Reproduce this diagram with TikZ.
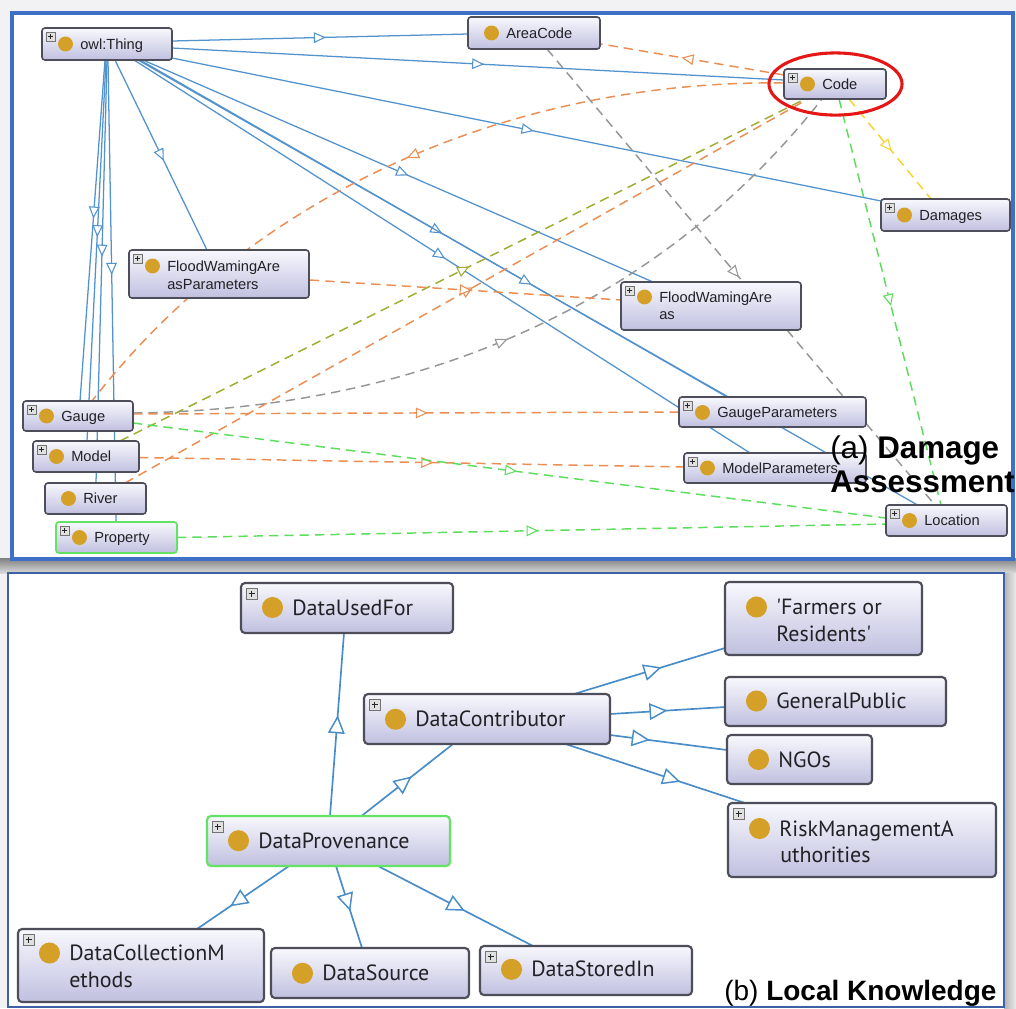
\documentclass[tikz,border=0pt]{standalone}
\usepackage{fontspec}
\newfontfamily\tf{Liberation Sans}
\newfontfamily\pts[Ligatures=TeXOff]{PT Sans}
\usetikzlibrary{arrows.meta,decorations.markings,fit,calc,backgrounds}

\definecolor{pagebg}{RGB}{242,242,244}
\definecolor{panelblue}{RGB}{62,112,200}
\definecolor{panelblueb}{RGB}{60,98,165}
\definecolor{isablue}{RGB}{82,146,205}
\definecolor{bisablue}{RGB}{72,140,200}
\definecolor{porange}{RGB}{234,142,84}
\definecolor{pgray}{RGB}{150,150,150}
\definecolor{polive}{RGB}{160,172,52}
\definecolor{pgreen}{RGB}{92,222,92}
\definecolor{pyellow}{RGB}{246,212,40}
\definecolor{dotc}{RGB}{212,160,40}
\definecolor{boxtop}{RGB}{248,248,253}
\definecolor{boxbot}{RGB}{192,192,224}
\definecolor{boxline}{RGB}{78,78,90}
\definecolor{boxgreen}{RGB}{100,226,100}
\definecolor{txt}{RGB}{34,34,38}
\definecolor{ringred}{RGB}{228,22,22}

\pgfdeclarelayer{edges}
\pgfsetlayers{background,edges,main}

% class box of the upper ontology graph
\newcommand\tcls[8]{%
  \node[#1, fit={(#3,#4) (#5,#6)}] (#2) {};
  \fill[dotc] (#3+23.5,#7) circle (5.6pt);
  \node[ttxt] (#2-l) at (#3+38,#7+5) {#8};
}
% class box of the lower ontology graph
\newcommand\bcls[8]{%
  \node[#1, fit={(#3,#4) (#5,#6)}] (#2) {};
  \fill[dotc] (#3+31.5,#7) circle (7.9pt);
  \node[btxt] (#2-l) at (#3+51,#7+7.5) {#8};
}
% small expand icons
\newcommand\tplus[1]{%
  \draw[plusbox] ($(#1.north west)+(4,4)$) rectangle ($(#1.north west)+(13,13)$);
  \draw[plussign] ($(#1.north west)+(6,8.5)$) -- ($(#1.north west)+(11,8.5)$)
                  ($(#1.north west)+(8.5,6)$) -- ($(#1.north west)+(8.5,11)$);
}
\newcommand\bplus[1]{%
  \draw[plusbox] ($(#1.north west)+(5,5)$) rectangle ($(#1.north west)+(16,16)$);
  \draw[plussign] ($(#1.north west)+(7.5,10.5)$) -- ($(#1.north west)+(13.5,10.5)$)
                  ($(#1.north west)+(10.5,7.5)$) -- ($(#1.north west)+(10.5,13.5)$);
}

\tikzset{
  ttip/.tip={Triangle[length=9pt,width=8pt,fill=white,line width=0.8pt]},
  btip/.tip={Triangle[length=13.5pt,width=12.5pt,fill=white,line width=1.1pt]},
  tmark/.style={postaction={decorate,decoration={markings,mark=at position #1 with {\arrow{ttip}}}}},
  bmark/.style={postaction={decorate,decoration={markings,mark=at position #1 with {\arrow{btip}}}}},
  isa/.style={draw=isablue, line width=0.95pt},
  bisa/.style={draw=bisablue, line width=1.25pt},
  prop/.style={draw=#1, line width=1.1pt, dash pattern=on 7pt off 4.5pt},
  tbox/.style={inner sep=0pt, outer sep=0pt, rounded corners=2.2pt, draw=boxline, line width=1.2pt,
               top color=boxtop, bottom color=boxbot},
  tboxg/.style={tbox, draw=boxgreen},
  bbox/.style={inner sep=0pt, outer sep=0pt, rounded corners=3pt, draw=boxline, line width=1.6pt,
               top color=boxtop, bottom color=boxbot},
  bboxg/.style={bbox, draw=boxgreen},
  ttxt/.style={anchor=base west, inner sep=0pt, text=txt, font=\tf\fontsize{11pt}{13pt}\selectfont},
  btxt/.style={anchor=base west, inner sep=0pt, text=txt, font=\pts\fontsize{16.5pt}{19pt}\selectfont},
  plusbox/.style={fill=black!12, draw=black!55, line width=0.5pt},
  plussign/.style={draw=black!85, line width=0.7pt},
  caption/.style={anchor=base west, inner sep=0pt, text=black},
}

\begin{document}
\begin{tikzpicture}[x=0.75pt,y=-0.75pt]
\useasboundingbox (0,0) rectangle (1016,1008);

% panels
\begin{pgfonlayer}{background}
  \fill[pagebg] (0,0) rectangle (1016,1008);
  \shade[top color=black!50, bottom color=black!15] (0,558) rectangle (1016,573);
  \shade[left color=black!30, right color=black!8] (1004,573) rectangle (1016,1008);
  \fill[white] (12,13) rectangle (1013,559);
  \draw[panelblue, line width=2.3pt] (12,13) rectangle (1013,559);
  \fill[white] (8,573) rectangle (1004,1007);
  \draw[panelblueb, line width=1.6pt] (8,573) rectangle (1004,1007);
\end{pgfonlayer}

% ---------- upper graph: classes ----------
\tcls{tbox}{thing}{42}{28}{172}{60}{44}{owl:Thing}
\tcls{tbox}{areacode}{468}{17}{600}{49}{33}{AreaCode}
\tcls{tbox}{code}{784}{69}{886}{99}{84}{Code}
\tcls{tbox}{damages}{881}{199}{1010}{231}{215}{Damages}
\tcls{tbox}{fwap}{129}{250}{309}{298}{266}{FloodWamingAre}
\node[ttxt] (fwap-l2) at (167,289) {asParameters};
\tcls{tbox}{fwa}{621}{282}{801}{330}{297}{FloodWamingAre}
\node[ttxt] (fwa-l2) at (659,319.5) {as};
\tcls{tbox}{gaugep}{679}{397}{866}{427}{412.5}{GaugeParameters}
\tcls{tbox}{modelp}{684}{453}{866}{483}{468}{ModelParameters}
\tcls{tbox}{location}{886}{505}{1007}{536}{520.5}{Location}
\tcls{tbox}{gauge}{23}{401}{133}{431}{416}{Gauge}
\tcls{tbox}{model}{33}{441}{139}{472}{456.5}{Model}
\tcls{tbox}{river}{45}{483}{146}{514}{498.5}{River}
\tcls{tboxg}{property}{56}{522}{177}{553}{537.5}{Property}
\foreach \n in {thing,code,damages,fwap,fwa,gaugep,modelp,location,gauge,model,property}{\tplus{\n}}

% ---------- lower graph: classes ----------
\bcls{bbox}{dusedfor}{241}{583}{453}{633}{607.5}{DataUsedFor}
\bcls{bbox}{dcontrib}{364}{694}{610}{744}{719.3}{DataContributor}
\bcls{bboxg}{dprov}{207}{816}{450}{866}{840.7}{DataProvenance}
\bcls{bbox}{dcm}{18}{929}{264}{1002}{953}{DataCollectionM}
\node[btxt] (dcm-l2) at (69,987) {ethods};
\bcls{bbox}{dsource}{271}{948}{469}{998}{973.3}{DataSource}
\bcls{bbox}{dstored}{480}{946}{692}{995}{969.3}{DataStoredIn}
\bcls{bbox}{farmers}{725}{582}{922}{655}{607}{'Farmers or}
\node[btxt] (farmers-l2) at (776,641.5) {Residents'};
\bcls{bbox}{gpublic}{725}{677}{946}{726}{701}{GeneralPublic}
\bcls{bbox}{ngos}{727}{735}{872}{784}{759.5}{NGOs}
\bcls{bbox}{risk}{728}{803}{996}{877}{828.5}{RiskManagementA}
\node[btxt] (risk-l2) at (780,862) {uthorities};
\foreach \n in {dusedfor,dcontrib,dprov,dcm,dstored,risk}{\bplus{\n}}

% ---------- connectors ----------
\begin{pgfonlayer}{edges}
  % subclass links below owl:Thing
  \draw[isa,tmark=0.52] ($(thing.east)+(0,-3)$) -- ($(areacode.west)+(0,1)$);
  \draw[isa,tmark=0.51] ($(thing.east)+(0,4)$) -- ($(code.west)+(0,-4)$);
  \draw[isa,tmark=0.51] ($(thing.east)+(0,14)$) -- ($(damages.west)+(0,-14)$);
  \draw[isa,tmark=0.52] ($(thing.south)+(36,0)$) -- ($(fwa.north)+(-58,0)$);
  \draw[isa,tmark=0.515] ($(thing.south)+(33,0)$) -- ($(gaugep.north)+(-45.5,0)$);
  \draw[isa,tmark=0.505] ($(thing.south)+(31,0)$) -- ($(location.north)+(-29,0)$);
  \draw[isa,tmark=0.505] ($(thing.south)+(27,0)$) -- ($(modelp.north)+(-25,0)$);
  \draw[isa,tmark=0.53] ($(thing.south)+(8,0)$) -- ($(fwap.north)+(-12,0)$);
  \draw[isa,tmark=0.465] ($(thing.south)+(-2,0)$) -- ($(gauge.north)+(2,0)$);
  \draw[isa,tmark=0.465] ($(thing.south)+(-1,0)$) -- ($(model.north)+(1,0)$);
  \draw[isa,tmark=0.465] ($(thing.south)+(0,0)$) -- ($(river.north)+(0.5,0)$);
  \draw[isa,tmark=0.465] ($(thing.south)+(1,0)$) -- ($(property.north)+(-0.5,0)$);

  % property links
  \draw[prop=porange,tmark=0.56] ($(code.west)+(0,-9)$) -- ($(areacode.east)+(1,11)$);
  \draw[prop=porange,tmark=0.49] ($(code.west)+(-1,-1)$) .. controls (560,80) and (280,160) .. ($(gauge.north)+(14,0)$);
  \draw[prop=polive,tmark=0.51] ($(model.north)+(34,0)$) -- ($(code.south)+(-30,0)$);
  \draw[prop=porange,tmark=0.51] ($(river.north)+(29.5,0)$) -- ($(code.south)+(-27,0)$);
  \draw[prop=pgray,tmark=0.49] ($(gauge.east)+(0,-3)$) .. controls (380,410) and (640,330) .. ($(code.south)+(-13,0)$);
  \draw[prop=pgray,tmark=0.98] ($(areacode.south)+(13,0)$) -- ($(fwa.north)+(32,0)$);
  \draw[prop=pgray] ($(fwa.south)+(76,0)$) -- ($(location.north)+(-11.5,0)$);
  \draw[prop=porange,tmark=0.52] ($(fwap.east)+(1,6)$) -- ($(fwa.west)+(0,-6)$);
  \draw[prop=porange,tmark=0.54] ($(gauge.east)+(0,-2)$) -- (gaugep.west);
  \draw[prop=porange,tmark=0.54] ($(model.east)+(0,1)$) -- ($(modelp.west)+(0,-1)$);
  \draw[prop=pgreen,tmark=0.51] ($(gauge.east)+(0,7)$) -- ($(location.west)+(0,-2.5)$);
  \draw[prop=pgreen,tmark=0.51] (property.east) -- ($(location.west)+(0,3.5)$);
  \draw[prop=pgreen,tmark=0.51] ($(code.south)+(4,0)$) -- ($(location.north)+(-5.5,0)$);
  \draw[prop=pyellow,tmark=0.52] ($(code.south)+(14,0)$) -- ($(damages.north)+(-14.5,0)$);

  % subclass links of the provenance graph
  \draw[bisa,bmark=0.55] ($(dprov.north)+(1.5,0)$) -- ($(dusedfor.south)+(-3,0)$);
  \draw[bisa,bmark=0.55] ($(dprov.north)+(33,0)$) -- ($(dcontrib.south)+(-34,0)$);
  \draw[bisa,bmark=0.64] ($(dprov.south)+(-39.5,0)$) -- ($(dcm.north)+(56,0)$);
  \draw[bisa,bmark=0.55] ($(dprov.south)+(7.5,0)$) -- ($(dsource.north)+(-8,0)$);
  \draw[bisa,bmark=0.56] ($(dprov.south)+(49.5,0)$) -- ($(dstored.north)+(-53,0)$);
  \draw[bisa,bmark=0.58] ($(dcontrib.north east)+(-36,0)$) -- ($(farmers.south west)+(0,-7)$);
  \draw[bisa,bmark=0.5] ($(dcontrib.east)+(0,-5)$) -- ($(gpublic.west)+(0,5.5)$);
  \draw[bisa,bmark=0.34] ($(dcontrib.east)+(0,16)$) -- ($(ngos.west)+(0,-9.5)$);
  \draw[bisa,bmark=0.64] ($(dcontrib.south east)+(-44.5,0)$) -- ($(risk.north west)+(17,0)$);
\end{pgfonlayer}

% highlight ring round Code
\draw[ringred, line width=2.3pt] (835.5,84) ellipse [x radius=49.9pt, y radius=23.3pt];

% panel captions
\node[caption, font=\tf\fontsize{23.5pt}{28pt}\selectfont] (capA1) at (830,458) {(a) \textbf{Damage}};
\node[caption, font=\tf\fontsize{23.5pt}{28pt}\selectfont] (capA2) at (830,492) {\textbf{Assessment}};
\node[caption, font=\tf\fontsize{21pt}{25pt}\selectfont] (capB) at (724,1000) {(b) \textbf{Local Knowledge}};
\end{tikzpicture}
\end{document}
